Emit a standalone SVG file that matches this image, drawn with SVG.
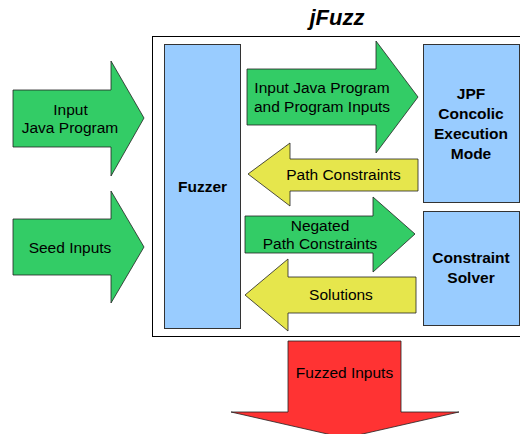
<svg xmlns="http://www.w3.org/2000/svg" width="520" height="434" viewBox="0 0 520 434">
<style>
.g{fill:#33cc66;stroke:#222;stroke-width:0.8}
.y{fill:#e6e64c;stroke:#222;stroke-width:0.8}
.r{fill:#ff3333;stroke:#222;stroke-width:0.8}
.b{fill:#99ccff;stroke:#333;stroke-width:1}
text{font-family:"Liberation Sans",Arial,sans-serif;font-size:15.5px;fill:#000;text-anchor:middle}
.bold{font-weight:bold}
</style>
<rect width="520" height="434" fill="#fff"/>
<text x="337" y="25" class="bold" style="font-style:italic;font-size:22px">jFuzz</text>
<rect id="container" x="152.5" y="36.5" width="380" height="300" fill="#fff" stroke="#000" stroke-width="1"/>
<g id="fuzzer"><rect class="b" x="164.5" y="44.5" width="76" height="284"/><text class="bold" x="202.5" y="192">Fuzzer</text></g>
<g id="jpf"><rect class="b" x="423.5" y="44.5" width="96" height="158"/>
<text class="bold" x="471" y="99">JPF</text><text class="bold" x="471" y="119">Concolic</text><text class="bold" x="471" y="139">Execution</text><text class="bold" x="471" y="159">Mode</text></g>
<g id="solver"><rect class="b" x="423.5" y="211.5" width="96" height="114"/>
<text class="bold" x="471" y="263">Constraint</text><text class="bold" x="471" y="283">Solver</text></g>
<g id="connectors">
<g id="in-java"><polygon class="g" points="13,90 111,90 111,61 144,118 111,176 111,147 13,147"/><text x="70.5" y="115">Input</text><text x="70" y="133">Java Program</text></g>
<g id="seed"><polygon class="g" points="13,219 111,219 111,191 144,247 111,303 111,275 13,275"/><text x="70" y="253">Seed Inputs</text></g>
<g id="to-jpf"><polygon class="g" points="247,69 376,69 376,41 418,97 376,153 376,125 247,125"/><text x="322" y="93">Input Java Program</text><text x="322" y="112">and Program Inputs</text></g>
<g id="path-c"><polygon class="y" points="418,159 290,159 290,143 248,174 290,206 290,191 418,191"/><text x="343.5" y="180">Path Constraints</text></g>
<g id="negated"><polygon class="g" points="245,216 373,216 373,197 415,234 373,272 373,253 245,253"/><text x="320" y="231">Negated</text><text x="320" y="249">Path Constraints</text></g>
<g id="solutions"><polygon class="y" points="416,277 288,277 288,259 245,295 288,331 288,313 416,313"/><text x="341" y="300">Solutions</text></g>
<g id="fuzzed"><polygon class="r" points="288,341 401,341 401,412 459,412 345,438 231,412 288,412"/><text x="344.5" y="378">Fuzzed Inputs</text></g>
</g>
</svg>
